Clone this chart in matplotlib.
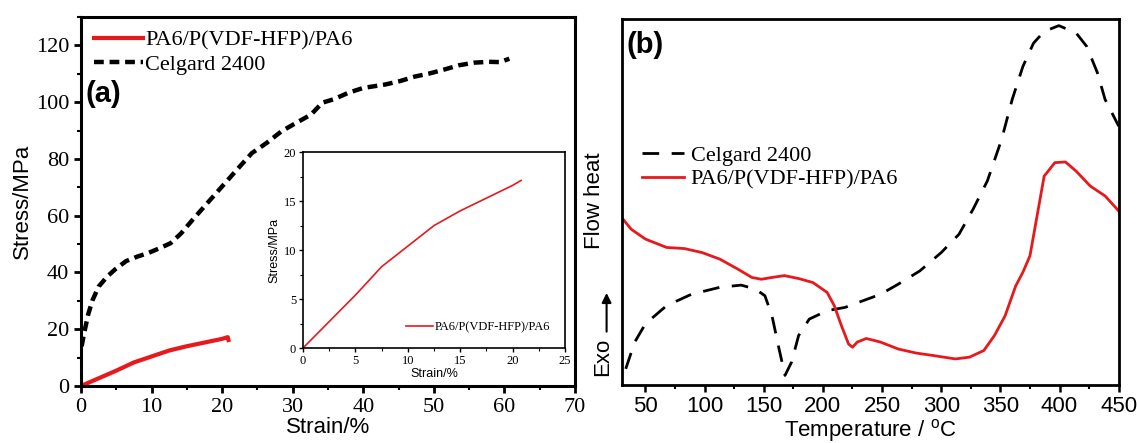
import matplotlib
matplotlib.use("Agg")
import matplotlib.pyplot as plt
from matplotlib.ticker import MultipleLocator

# (a) stress-strain
celgardStrain = [0.1, 0.4, 1.0, 1.6, 2.5, 3.7, 4.8, 6.4, 8.0, 9.5, 11.1, 12.7, 14.2, 15.8,
                 17.9, 20.0, 22.1, 24.2, 26.3, 28.4, 30.5, 32.6, 34.2, 35.8, 37.9, 40.0,
                 43.1, 45.2, 47.3, 49.4, 51.5, 53.6, 55.7, 57.8, 59.4, 60.7]
celgardStress = [14.0, 18.0, 25.0, 30.0, 35.0, 38.5, 41.0, 44.0, 45.6, 46.8, 48.5, 50.3, 53.8, 58.5,
                 64.4, 70.3, 76.2, 82.0, 85.6, 89.7, 92.7, 95.6, 99.8, 101.0, 103.3, 105.0,
                 106.2, 107.4, 109.0, 110.1, 111.5, 113.0, 113.9, 114.2, 114.1, 115.3]
paStrain = [0, 2.5, 5.0, 7.5, 10.0, 12.5, 15.0, 17.5, 20.0, 20.8, 20.9]
paStress = [0, 2.7, 5.4, 8.3, 10.4, 12.5, 14.0, 15.3, 16.6, 17.2, 16.2]
insetStrain = [0, 2.5, 5.0, 7.5, 10.0, 12.5, 15.0, 17.5, 20.0, 20.8]
insetStress = [0, 2.7, 5.4, 8.3, 10.4, 12.5, 14.0, 15.3, 16.6, 17.1]

# (b) DSC, arbitrary units
celgardT = [33.4, 41, 50, 68, 89, 113, 131, 143, 151, 157, 163, 168, 173.5, 179.5, 188.5,
            203.6, 218.7, 233.7, 248.8, 263.9, 282, 300, 315, 327, 339, 351, 360, 369,
            378, 387, 399.4, 414, 423, 432, 438.5, 450]
celgardHeat = [4.3, 11.6, 16.6, 21.6, 24.7, 26.6, 27.2, 26.1, 24.3, 18.8, 9.7, 2.5, 6.1, 13.4, 17.9,
               20.2, 21.1, 22.9, 24.7, 27.5, 31.1, 36.1, 41.1, 48.0, 55.7, 67.0, 78.0, 87.0,
               93.4, 96.6, 98.2, 96.2, 92.5, 85.3, 78.0, 70.7]
paT = [28.9, 38, 50, 68, 83, 98, 113, 128, 140, 148, 157, 167.5, 179.5, 191.6, 203.6, 209.6,
       215.7, 221.7, 225, 229, 236.7, 248.8, 263.9, 279, 294, 312, 324, 336, 345, 354, 363,
       369, 375, 381, 387, 396, 405, 414, 426, 438.5, 450]
paHeat = [46.1, 42.5, 39.8, 37.5, 37.2, 36.1, 34.3, 31.6, 29.3, 28.8, 29.3, 29.8, 29.0, 27.9, 25.2, 21.6,
          16.1, 11.1, 10.2, 11.6, 12.6, 11.6, 9.7, 8.6, 7.9, 7.0, 7.5, 9.3, 13.4, 18.8, 27.0,
          30.7, 35.2, 46.1, 57.0, 60.7, 60.9, 58.4, 54.3, 51.6, 47.5]

red = "#e8191c"
serif = "Liberation Serif"
sans = "Liberation Sans"

def setTickFont(ax, family, size):
    for label in ax.get_xticklabels() + ax.get_yticklabels():
        label.set_fontfamily(family)
        label.set_fontsize(size)

figure = plt.figure(figsize = (11.37, 4.43), dpi = 100)

# panel a
axA = figure.add_axes([0.0712, 0.1287, 0.4345, 0.833])
axA.plot(celgardStrain, celgardStress, color = "black", lw = 3.2, linestyle = (0, (2.2, 1.3)),
         label = "Celgard 2400")
axA.plot(paStrain, paStress, color = red, lw = 3, label = "PA6/P(VDF-HFP)/PA6")
axA.set_xlim(0, 70)
axA.set_ylim(0, 130)
axA.set_xticks(range(0, 71, 10))
axA.set_yticks(range(0, 121, 20))
axA.xaxis.set_minor_locator(MultipleLocator(5))
axA.yaxis.set_minor_locator(MultipleLocator(10))
axA.tick_params(which = "major", direction = "out", length = 5, width = 2, top = False, right = False)
axA.tick_params(which = "minor", direction = "out", length = 3, width = 1.5, top = False, right = False)
for s in axA.spines.values():
    s.set_linewidth(2.2)
setTickFont(axA, serif, 16)
axA.set_xlabel("Strain/%", family = sans, fontsize = 16, labelpad = 0)
axA.set_ylabel("Stress/MPa", family = sans, fontsize = 16, labelpad = 2)
handles, labels = axA.get_legend_handles_labels()
axA.legend(handles[::-1], labels[::-1], loc = "upper left", frameon = False,
           prop = {"family": serif, "size": 16}, handlelength = 2.2, handletextpad = 0.1,
           labelspacing = 0.15, borderaxespad = 0.2, bbox_to_anchor = (0.0, 1.0))
axA.text(0.01, 0.79, "(a)", transform = axA.transAxes, family = sans, fontweight = "bold",
         fontsize = 21, va = "center")

# inset
axI = figure.add_axes([0.2665, 0.2144, 0.2305, 0.4424])
axI.plot(insetStrain, insetStress, color = red, lw = 1.2, label = "PA6/P(VDF-HFP)/PA6")
axI.set_xlim(0, 25)
axI.set_ylim(0, 20)
axI.set_xticks(range(0, 26, 5))
axI.set_yticks(range(0, 21, 5))
axI.xaxis.set_minor_locator(MultipleLocator(2.5))
axI.yaxis.set_minor_locator(MultipleLocator(2.5))
axI.tick_params(which = "major", direction = "out", length = 3, width = 1, top = False, right = False, pad = 2)
axI.tick_params(which = "minor", direction = "out", length = 2, width = 0.8, top = False, right = False)
for s in axI.spines.values():
    s.set_linewidth(1.2)
setTickFont(axI, serif, 9)
axI.set_xlabel("Strain/%", family = sans, fontsize = 9, labelpad = 1)
axI.set_ylabel("Stress/MPa", family = sans, fontsize = 9, labelpad = 2)
axI.legend(loc = "lower right", frameon = False, prop = {"family": serif, "size": 9},
           handlelength = 2.2, handletextpad = 0.1, borderaxespad = 0.8)

# panel b
axB = figure.add_axes([0.5468, 0.132, 0.4371, 0.825])
axB.plot(celgardT, celgardHeat, color = "black", lw = 2, linestyle = (0, (6, 4.5)),
         label = "Celgard 2400")
axB.plot(paT, paHeat, color = red, lw = 2, label = "PA6/P(VDF-HFP)/PA6")
axB.set_xlim(30, 450)
axB.set_ylim(0, 100)
axB.set_xticks(range(50, 451, 50))
axB.xaxis.set_minor_locator(MultipleLocator(25))
axB.set_yticks([])
axB.tick_params(which = "major", direction = "out", length = 5, width = 1.8, top = False)
axB.tick_params(which = "minor", direction = "out", length = 3, width = 1.5, top = False)
for s in axB.spines.values():
    s.set_linewidth(2)
setTickFont(axB, sans, 16)
axB.set_xlabel("Temperature / $\\mathregular{^oC}$", family = sans, fontsize = 16, labelpad = 0)
axB.legend(loc = "upper left", frameon = False, prop = {"family": serif, "size": 16},
           handlelength = 1.9, handletextpad = 0.3, labelspacing = 0.15,
           bbox_to_anchor = (0.0, 0.71))
axB.text(0.01, 0.93, "(b)", transform = axB.transAxes, family = sans, fontweight = "bold",
         fontsize = 21, va = "center")
figure.text(0.523, 0.548, "Flow heat", rotation = 90, family = sans, fontsize = 16,
            ha = "center", va = "center")
figure.text(0.530, 0.195, "Exo", rotation = 90, family = sans, fontsize = 16,
            ha = "center", va = "center")
figure.patches.append(matplotlib.patches.FancyArrowPatch((0.5335, 0.245), (0.5335, 0.345),
                      transform = figure.transFigure, arrowstyle = "-|>", mutation_scale = 14,
                      color = "black", lw = 1.5))

plt.savefig("out.png", dpi = 100)
